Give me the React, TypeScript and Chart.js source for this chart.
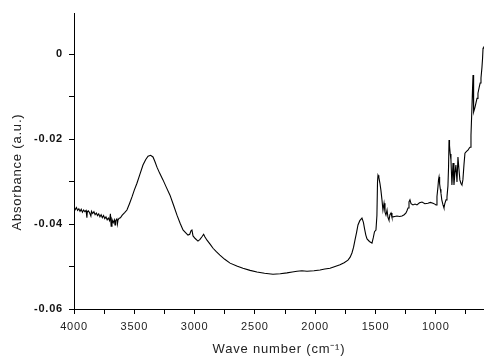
import React, { useEffect, useRef } from 'react';
import { Chart, registerables } from 'chart.js';

Chart.register(...registerables);

const wavenumbers = [
  4000, 3990, 3980, 3970, 3960, 3950, 3940, 3930, 3920, 3910, 3900, 3893, 3890, 3880, 3870, 3860, 3855,
  3845, 3835, 3825, 3815, 3805, 3795, 3785, 3775, 3765, 3755, 3745, 3735, 3725, 3715, 3705, 3698,
  3692, 3685, 3675, 3665, 3660, 3655, 3645, 3640, 3635, 3625, 3615, 3600, 3580, 3561, 3540, 3519, 3500, 3478,
  3455, 3428, 3405, 3386, 3365, 3345, 3330, 3312, 3290, 3262, 3235, 3204, 3175, 3146, 3120, 3096,
  3075, 3055, 3040, 3030, 3022, 3013, 2995, 2972, 2955, 2939, 2925, 2915, 2897, 2870, 2847, 2820,
  2790, 2750, 2706, 2650, 2599, 2540, 2483, 2420, 2350, 2290, 2234, 2190, 2151, 2110, 2068, 2010,
  1960, 1920, 1877, 1835, 1794, 1760, 1728, 1710, 1695, 1682, 1670, 1657, 1645, 1630, 1612, 1600,
  1590, 1580, 1570, 1550, 1529, 1518, 1508, 1496, 1488, 1483, 1479, 1472, 1463, 1455, 1446, 1438,
  1429, 1421, 1413, 1404, 1396, 1388, 1380, 1371, 1363, 1355, 1340, 1322, 1300, 1280, 1262, 1247,
  1238, 1230, 1222, 1214, 1205, 1189, 1172, 1156, 1135, 1114, 1090, 1065, 1045, 1023, 1008, 998,
  990, 982, 977, 973, 968, 962, 957, 950, 940, 932, 925, 915, 907, 899, 894, 890,
  886, 880, 874, 866, 857, 849, 841, 833, 824, 816, 808, 800, 790, 783, 775, 766,
  758, 745, 733, 722, 716, 708, 700, 695, 691, 689, 686, 683, 675, 667, 658, 650,
  640, 632, 625, 617, 612, 608, 603, 600,
];

const absorbance = [
  -0.0362, -0.0366, -0.0361, -0.0368, -0.0364, -0.037, -0.0365, -0.0372, -0.0367, -0.0371, -0.0368, -0.0385, -0.0372, -0.0369, -0.0374, -0.0381, -0.037,
  -0.0375, -0.0371, -0.0378, -0.0374, -0.038, -0.0376, -0.0383, -0.0378, -0.0385, -0.038, -0.0387, -0.0383, -0.039, -0.0386, -0.0392, -0.0376,
  -0.0405, -0.0389, -0.0397, -0.0390, -0.0402, -0.0392, -0.0388, -0.0400, -0.0390, -0.0386, -0.0385, -0.0379, -0.0373, -0.0367, -0.0352, -0.0336, -0.032, -0.0304,
  -0.0284, -0.0261, -0.0248, -0.024, -0.0238, -0.0242, -0.0252, -0.0266, -0.028, -0.0296, -0.0313, -0.0332, -0.0355, -0.0379, -0.0398, -0.0414,
  -0.042, -0.0426, -0.0424, -0.0416, -0.0414, -0.0428, -0.0434, -0.044, -0.0436, -0.043, -0.0424, -0.043, -0.0438, -0.0448, -0.0457, -0.0465,
  -0.0473, -0.0483, -0.0492, -0.0499, -0.0504, -0.0509, -0.0513, -0.0516, -0.0518, -0.0517, -0.0515, -0.0513, -0.0511, -0.051, -0.0511, -0.051,
  -0.0508, -0.0506, -0.0504, -0.05, -0.0496, -0.0491, -0.0485, -0.0478, -0.0468, -0.0455, -0.0438, -0.042, -0.0402, -0.0392, -0.0386, -0.0396,
  -0.0412, -0.0426, -0.0435, -0.0441, -0.0445, -0.0432, -0.0418, -0.0414, -0.038, -0.03, -0.0285, -0.029, -0.0304, -0.032, -0.0343, -0.0367,
  -0.0351, -0.0372, -0.0379, -0.0367, -0.0385, -0.0391, -0.0378, -0.0374, -0.0384, -0.0383, -0.0382, -0.0381, -0.0382, -0.0381, -0.0378, -0.0374,
  -0.0368, -0.0362, -0.0348, -0.0343, -0.0352, -0.0355, -0.0353, -0.0355, -0.035, -0.0348, -0.0352, -0.0351, -0.0349, -0.0351, -0.0353, -0.0355,
  -0.0335, -0.0313, -0.0295, -0.0289, -0.0305, -0.0318, -0.0327, -0.0343, -0.0355, -0.0362, -0.0352, -0.0343, -0.0336, -0.031, -0.0266, -0.0202,
  -0.0215, -0.0235, -0.0249, -0.0308, -0.0256, -0.0308, -0.028, -0.0261, -0.0301, -0.0242, -0.027, -0.0296, -0.0305, -0.0308, -0.0296, -0.026,
  -0.0233, -0.0229, -0.0226, -0.0221, -0.0219, -0.0191, -0.0125, -0.008, -0.0049, -0.0068, -0.011, -0.0136, -0.0125, -0.0115, -0.0104, -0.0092,
  -0.0078, -0.0068, -0.0056, -0.0031, -0.001, 0.0014, 0.0016, 0.0018,
];

const xTickValues = [750, 1000, 1250, 1500, 1750, 2000, 2250, 2500, 2750, 3000, 3250, 3500, 3750, 4000];
const xLabelValues = [1000, 1500, 2000, 2500, 3000, 3500, 4000];
const yTickValues = [-0.06, -0.05, -0.04, -0.03, -0.02, -0.01, 0];
const yLabelTexts = ['-0.06', '', '-0.04', '', '-0.02', '', '0'];

const xTitle = 'Wave number (cm\u207B\u00B9)';
const yTitle = 'Absorbance (a.u.)     ';

export default function App() {
  const canvasRef = useRef<HTMLCanvasElement | null>(null);

  useEffect(() => {
    document.body.style.margin = '0';
    const canvas = canvasRef.current;
    if (!canvas) return;

    const spacingPlugin = {
      id: 'letterSpacing',
      beforeDraw(chart: any) {
        try {
          (chart.ctx as any).letterSpacing = '0.8px';
        } catch (e) {}
      },
    };

    const chart = new Chart(canvas, {
      type: 'line',
      data: {
        datasets: [
          {
            data: wavenumbers.map((w, i) => ({ x: w, y: absorbance[i] })),
            borderColor: '#000',
            borderWidth: 1.1,
            pointRadius: 0,
            tension: 0,
            fill: false,
          },
        ],
      },
      options: {
        responsive: false,
        animation: false,
        layout: { padding: { top: 13, right: 0, left: 0, bottom: 0 } },
        plugins: {
          legend: { display: false },
          tooltip: { enabled: false },
        },
        scales: {
          x: {
            type: 'linear',
            reverse: true,
            min: 600,
            max: 4000,
            afterBuildTicks: (scale: any) => {
              scale.ticks = xTickValues.map((v) => ({ value: v }));
            },
            afterFit: (scale: any) => {
              scale.height = 47;
            },
            grid: {
              display: true,
              drawOnChartArea: false,
              drawTicks: true,
              tickLength: 5,
              tickColor: '#000',
              color: '#000',
            },
            border: { display: true, color: '#000', width: 1 },
            ticks: {
              autoSkip: false,
              maxRotation: 0,
              padding: 6,
              color: '#222',
              font: { family: 'Liberation Sans, Arial, sans-serif', size: 11 },
              callback: (v: any) => (xLabelValues.includes(Number(v)) ? String(v) : ''),
            },
            title: {
              display: true,
              text: xTitle,
              color: '#222',
              font: { family: 'Liberation Sans, Arial, sans-serif', size: 13, lineHeight: 1 },
              padding: { top: 0, bottom: 0 },
            },
          },
          y: {
            type: 'linear',
            min: -0.06,
            max: 0.0097,
            afterBuildTicks: (scale: any) => {
              scale.ticks = yTickValues.map((v) => ({ value: v }));
            },
            afterFit: (scale: any) => {
              scale.width = 74;
            },
            grid: {
              display: true,
              drawOnChartArea: false,
              drawTicks: true,
              tickLength: 5,
              tickColor: '#000',
              color: '#000',
            },
            border: { display: true, color: '#000', width: 1 },
            ticks: {
              autoSkip: false,
              padding: 6,
              color: '#111',
              font: { family: 'Liberation Sans, Arial, sans-serif', size: 11, weight: 'bold' },
              callback: (v: any) => {
                const idx = yTickValues.findIndex((t) => Math.abs(t - Number(v)) < 1e-9);
                return idx >= 0 ? yLabelTexts[idx] : '';
              },
            },
            title: {
              display: true,
              text: yTitle,
              color: '#222',
              font: { family: 'Liberation Sans, Arial, sans-serif', size: 13, lineHeight: 1 },
              padding: { top: 11, bottom: 0 },
            },
          },
        },
      },
      plugins: [spacingPlugin],
    } as any);

    return () => {
      chart.destroy();
    };
  }, []);

  return (
    <div style={{ width: 484, height: 356, background: '#fff' }}>
      <canvas ref={canvasRef} width={484} height={356} style={{ display: 'block' }} />
    </div>
  );
}
